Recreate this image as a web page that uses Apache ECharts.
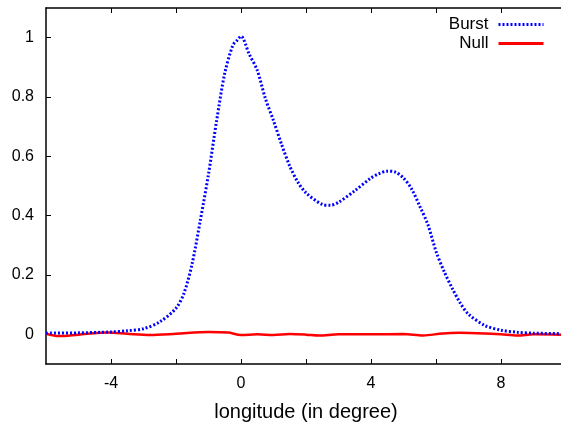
<!DOCTYPE html>
<html><head><meta charset="utf-8">
<script src="https://cdn.jsdelivr.net/npm/echarts@6/dist/echarts.min.js"></script>
<style>html,body{margin:0;padding:0;background:#fff;overflow:hidden}#c{width:561px;height:429px}</style>
</head><body><div id="c"></div>
<script>
const burstX = [-6,-5,-4,-3.5,-3,-2.5,-2,-1.75,-1.5,-1.25,-1,-0.75,-0.5,-0.25,-0.125,0,0.25,0.5,0.75,1,1.25,1.5,1.75,2,2.5,2.75,3,3.5,4,4.25,4.5,4.75,5,5.25,5.5,5.75,6,6.25,6.5,6.75,7,7.5,8,8.5,9,10];
const burstY = [0.004,0.005,0.008,0.012,0.019,0.042,0.088,0.14,0.24,0.385,0.54,0.72,0.88,0.975,0.99,1.005,0.945,0.89,0.795,0.72,0.64,0.567,0.513,0.477,0.438,0.435,0.445,0.484,0.527,0.542,0.55,0.547,0.527,0.49,0.432,0.37,0.28,0.212,0.155,0.105,0.068,0.03,0.014,0.007,0.004,0.002];
const nullX = [-6,-5.6,-5,-4.1,-3.5,-2.8,-2,-1,-0.4,0,0.5,1,1.5,2,2.4,3,4,5,5.6,6.2,6.7,7.5,8,8.5,9,10];
const nullY = [0.002,-0.006,-0.001,0.006,0.002,-0.002,0.002,0.008,0.006,-0.002,0,-0.002,0.001,-0.001,-0.004,0,0,0.001,-0.004,0.003,0.005,0.003,0,-0.004,0,-0.002];
const xTicks = [-4,-2,0,2,4,6,8];
const xLabels = [-4,0,4,8];
const yTicks = [0,0.2,0.4,0.6,0.8,1];
const seriesNames = ['Burst','Null'];
const xName = 'longitude (in degree)';

const font = 'Liberation Sans, Arial, sans-serif';
function tick(vals){ return {customValues:vals,inside:true,length:5,lineStyle:{color:'#000',width:1}}; }
function line(){ return {show:true,onZero:false,lineStyle:{color:'#000',width:1.5}}; }
function legendFor(i, top, ls){
  return {data:[seriesNames[i]],right:16,top:top,orient:'vertical',align:'right',padding:0,itemWidth:45,itemHeight:14,itemGap:0,
    itemStyle:{opacity:0},lineStyle:ls,
    textStyle:{fontFamily:font,fontSize:17,color:'#000',padding:[0,5,0,0]}};
}
const chart = echarts.init(document.getElementById('c'));
chart.setOption({
  animation:false,
  grid:{left:46,top:8,width:520,bottom:65,containLabel:false,outerBoundsMode:'none'},
  legend:[
    legendFor(0,16,{width:3,type:[2,2],color:'#0000ff'}),
    legendFor(1,35,{width:3,color:'#ff0000'})
  ],
  xAxis:[
    {type:'value',min:-6,max:10,position:'bottom',axisLine:line(),
     axisTick:tick(xTicks),
     axisLabel:{customValues:xLabels,fontFamily:font,fontSize:16,color:'#000',margin:12},
     splitLine:{show:false},
     name:xName,nameLocation:'middle',nameGap:38,nameTextStyle:{fontFamily:font,fontSize:20,color:'#000'}},
    {type:'value',min:-6,max:10,position:'top',axisLine:line(),
     axisTick:tick(xTicks),
     axisLabel:{show:false},splitLine:{show:false}}
  ],
  yAxis:[
    {type:'value',min:-0.1,max:1.1,position:'left',axisLine:line(),
     axisTick:tick(yTicks),
     axisLabel:{customValues:yTicks,fontFamily:font,fontSize:16,color:'#000',margin:12},
     splitLine:{show:false}}
  ],
  series:[
    {name:seriesNames[0],type:'line',smooth:0.3,symbol:'none',
     lineStyle:{color:'#0000ff',width:3,type:[2,2]},itemStyle:{color:'#0000ff'},
     data:burstX.map((x,i)=>[x,burstY[i]]),z:3},
    {name:seriesNames[1],type:'line',smooth:0.3,symbol:'none',
     lineStyle:{color:'#ff0000',width:2.5},itemStyle:{color:'#ff0000'},
     data:nullX.map((x,i)=>[x,nullY[i]]),z:2}
  ]
});
</script></body></html>
